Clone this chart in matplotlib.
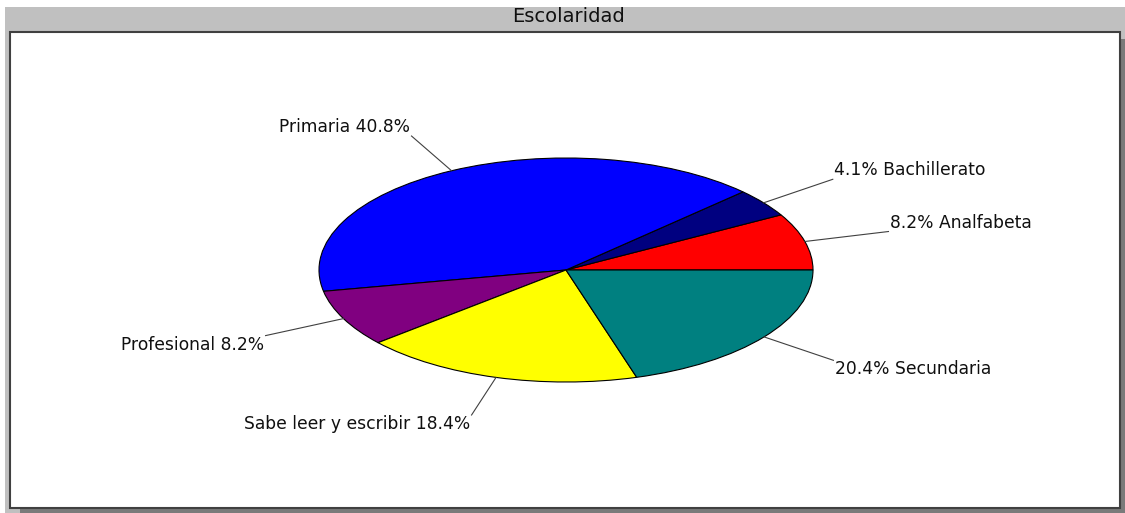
import numpy as np
import matplotlib
matplotlib.use("Agg")
import matplotlib.pyplot as plt
from matplotlib.patches import Rectangle

# data (counterclockwise from 3 o'clock)
categorias = ["Analfabeta", "Bachillerato", "Primaria", "Profesional",
              "Sabe leer y escribir", "Secundaria"]
porcentajes = [8.2, 4.1, 40.8, 8.2, 18.4, 20.4]
colores = ["#FF0000", "#000080", "#0000FF", "#800080", "#FFFF00", "#008080"]
titulo = "Escolaridad"

W, H = 1125, 513
fig = plt.figure(figsize=(W / 100, H / 100), dpi=100)
fig.patch.set_facecolor("white")

def px_rect(x0, y0, x1, y1, **kw):
    # rectangle in pixel coords, y measured from top
    r = Rectangle((x0 / W, 1 - y1 / H), (x1 - x0) / W, (y1 - y0) / H,
                  transform=fig.transFigure, **kw)
    fig.patches.append(r)
    return r

px_rect(5, 7, W, H, facecolor="#C0C0C0", edgecolor="none", zorder=0)
px_rect(20, 39, W, H, facecolor="#7A7A7A", edgecolor="none", zorder=1)
px_rect(10, 32, 1120, 508, facecolor="white", edgecolor="#404040", lw=1.5, zorder=2)

fig.text(569 / W, 1 - 16 / H, titulo, ha="center", va="center",
         fontsize=14, family="DejaVu Sans", color="#101010")

# pie axes covering the white panel
ax = fig.add_axes([10 / W, 1 - 508 / H, 1110 / W, 476 / H])
ax.set_zorder(5)
ax.patch.set_alpha(0)
wedges, _ = ax.pie(porcentajes, colors=colores, startangle=0, counterclock=True,
                   wedgeprops=dict(edgecolor="black", linewidth=0.8))
ax.set_aspect("auto")
cx, cy, rx, ry = 566, 270, 247, 112
ax.set_xlim((10 - cx) / rx, (1120 - cx) / rx)
ax.set_ylim((cy - 508) / ry, (cy - 32) / ry)
ax.axis("off")

total = sum(porcentajes)
ang = 0.0
for nombre, p in zip(categorias, porcentajes):
    mid = np.deg2rad(ang + p / total * 360 / 2)
    ang += p / total * 360
    c, s = np.cos(mid), np.sin(mid)
    r_out = 1.35
    ax.plot([c, r_out * c], [s, r_out * s], color="#404040", lw=0.8)
    if c < 0:
        txt, ha = f"{nombre} {p:.1f}%", "right"
    else:
        txt, ha = f"{p:.1f}% {nombre}", "left"
    va = "bottom" if s > 0 else "top"
    ax.text(r_out * c + (0.005 if c >= 0 else -0.005), r_out * s, txt,
            ha=ha, va=va, fontsize=12.3, family="DejaVu Sans", color="#101010")

fig.savefig("out.png", dpi=100)
